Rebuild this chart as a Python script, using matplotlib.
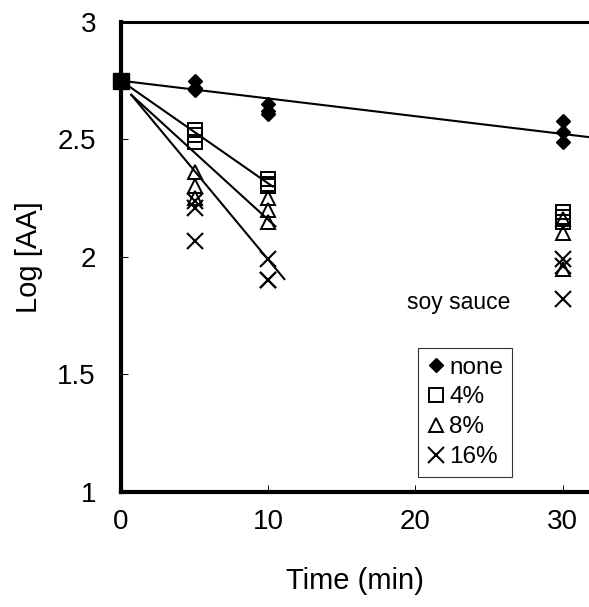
import matplotlib
matplotlib.use("Agg")
import matplotlib.pyplot as plt
from matplotlib.lines import Line2D

plt.rcParams["font.family"] = ["Liberation Sans", "DejaVu Sans"]

# measured Log[AA] at each sampling time (three replicates per time)
times = [5, 5, 5, 10, 10, 10, 30, 30, 30]
none_vals = [2.75, 2.72, 2.71, 2.65, 2.62, 2.61, 2.58, 2.53, 2.49]
pct4_vals = [2.54, 2.52, 2.49, 2.33, 2.31, 2.30, 2.19, 2.17, 2.15]
pct8_vals = [2.36, 2.30, 2.25, 2.25, 2.20, 2.15, 2.16, 2.10, 1.95]
pct16_vals = [2.24, 2.21, 2.07, 1.99, 1.90, 1.90, 1.99, 1.96, 1.82]

# common starting value
t0 = [0]
start_val = [2.75]

# fitted lines (end points)
fit_none_t = [0, 31.8]
fit_none_y = [2.75, 2.51]
fit_4_t = [0, 10.3]
fit_4_y = [2.75, 2.30]
fit_8_t = [0.7, 10.5]
fit_8_y = [2.69, 2.13]
fit_16_t = [0.7, 11.1]
fit_16_y = [2.69, 1.906]

x_ticks = [0, 10, 20, 30]
y_ticks = [1, 1.5, 2, 2.5, 3]
y_tick_labels = ["1", "1.5", "2", "2.5", "3"]
legend_labels = ["none", "4%", "8%", "16%"]

fig = plt.figure(figsize=(5.89, 6.07), dpi=100)
ax = fig.add_axes([0.2054, 0.1895, 0.7946, 0.7743])

for ft, fy in [(fit_none_t, fit_none_y), (fit_4_t, fit_4_y),
               (fit_8_t, fit_8_y), (fit_16_t, fit_16_y)]:
    ax.plot(ft, fy, color="black", lw=1.5, zorder=2)

ax.plot(times, none_vals, "D", ms=7.5, color="black", zorder=3)
ax.plot(times, pct4_vals, "s", ms=9.5, mfc="none", mec="black", mew=1.4, zorder=3)
ax.plot(times, pct8_vals, "^", ms=10, mfc="none", mec="black", mew=1.4, zorder=3)
ax.plot(times, pct16_vals, "x", ms=11, color="black", mew=1.5, zorder=3)
ax.plot(t0, start_val, "s", ms=11, color="black", zorder=4, clip_on=False)

ax.set_xlim(0, 31.8)
ax.set_ylim(1, 3)
ax.set_xticks(x_ticks)
ax.set_yticks(y_ticks)
ax.set_yticklabels(y_tick_labels)
ax.tick_params(axis="both", direction="in", length=5, width=0.7,
               labelsize=20, color="black")
ax.tick_params(axis="x", pad=12)
ax.tick_params(axis="y", pad=18)

ax.spines["right"].set_visible(False)
ax.spines["left"].set_linewidth(3)
ax.spines["bottom"].set_linewidth(3)
ax.spines["top"].set_linewidth(2.2)

ax.set_xlabel("Time (min)", fontsize=21, labelpad=23)
ax.set_ylabel("Log [AA]", fontsize=21, labelpad=10)

ax.text(0.831, 0.403, "soy sauce", transform=ax.transAxes, fontsize=16.5,
        ha="right", va="center")

handles = [
    Line2D([], [], ls="none", marker="D", ms=7.5, color="black"),
    Line2D([], [], ls="none", marker="s", ms=9.5, mfc="none", mec="black", mew=1.4),
    Line2D([], [], ls="none", marker="^", ms=10, mfc="none", mec="black", mew=1.4),
    Line2D([], [], ls="none", marker="x", ms=11, color="black", mew=1.5),
]
leg = ax.legend(handles, legend_labels, loc="upper left",
                bbox_to_anchor=(0.634, 0.306), fontsize=17.5, frameon=True,
                fancybox=False, edgecolor="black", handlelength=0.8,
                handletextpad=0.15, borderpad=0.35, labelspacing=0.32,
                borderaxespad=0)
leg.get_frame().set_linewidth(0.8)

fig.savefig("out.png", dpi=100)
